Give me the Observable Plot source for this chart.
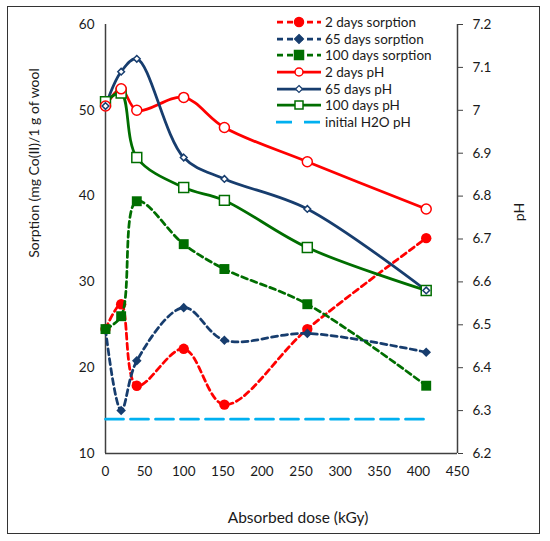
<!DOCTYPE html>
<html>
<head>
<meta charset="utf-8">
<script src="https://cdn.jsdelivr.net/npm/d3@7"></script>
<script src="https://cdn.jsdelivr.net/npm/@observablehq/plot@0.6"></script>
<style>
  body { margin: 0; background: #fff; font-family: Lato, "Open Sans", sans-serif; }
  #wrap { position: relative; width: 550px; height: 541px; }
  .lbl { position: absolute; white-space: nowrap; color: #1a1a1a; font-size: 15.5px; transform: translate(-50%, -50%); }
  #legend { position: absolute; left: 276px; top: 14px; font-size: 13.5px; color: #1a1a1a; }
  .row { height: 16.6px; display: flex; align-items: center; }
  .row svg { display: block; }
  .row span { margin-left: 3px; }
</style>
</head>
<body>
<div id="wrap">
  <div id="chart"></div>
  <div style="position:absolute;left:7px;top:6px;width:531px;height:526px;border:1.5px solid #333;pointer-events:none"></div>
  <div class="lbl" style="left:33px;top:163px;font-size:14px;transform:translate(-50%,-50%) rotate(-90deg)">Sorption (mg Co(II)/1 g of wool</div>
  <div class="lbl" style="left:518px;top:212px;font-size:14px;transform:translate(-50%,-50%) rotate(-90deg)">pH</div>
  <div class="lbl" style="left:298px;top:517px">Absorbed dose (kGy)</div>
  <div id="legend"></div>
</div>
<script>
// ---- data ----
const dose = [0, 20, 40, 100, 152, 258, 410];
const sorption2d = [24.5, 27.4, 17.9, 22.2, 15.7, 24.5, 35.1];
const sorption65d = [24.5, 15.0, 20.8, 27.0, 23.2, 24.0, 21.8];
const sorption100d = [24.5, 26.0, 39.4, 34.4, 31.5, 27.4, 17.9];
const pH2d = [7.01, 7.05, 7.00, 7.03, 6.96, 6.88, 6.77];
const pH65d = [7.01, 7.09, 7.12, 6.89, 6.84, 6.77, 6.58];
const pH100d = [7.02, 7.04, 6.89, 6.82, 6.79, 6.68, 6.58];
const initialPH = 6.28;
const xTicks = [0, 50, 100, 150, 200, 250, 300, 350, 400, 450];
const leftTicks = [10, 20, 30, 40, 50, 60];
const pHTicks = [6.2, 6.3, 6.4, 6.5, 6.6, 6.7, 6.8, 6.9, 7.0, 7.1, 7.2];
const seriesNames = ["2 days sorption", "65 days sorption", "100 days sorption", "2 days pH", "65 days pH", "100 days pH", "initial H2O pH"];

const RED = "#ff0000", NAVY = "#173d6e", GREEN = "#006e00", LBLUE = "#00b0f0";

// secondary (pH) axis mapped onto the primary scale
const toLeft = p => 10 + (p - 6.2) * 50;
const fromLeft = v => 6.2 + (v - 10) / 50;
const rows = ys => dose.map((x, i) => ({x, y: ys[i]}));
const rowsPH = ys => dose.map((x, i) => ({x, y: toLeft(ys[i])}));

const dash = "6,4";
const sw = 2.75;
const curve = "catmull-rom";

const marks = [
  Plot.ruleX([0], {stroke: "#404040", strokeWidth: 1.5}),
  Plot.ruleX([450], {stroke: "#404040", strokeWidth: 1.5}),
  Plot.ruleY([10], {stroke: "#404040", strokeWidth: 1.5}),
  Plot.axisX({ticks: xTicks, tickSize: 0, tickPadding: 13, label: null}),
  Plot.axisY({ticks: leftTicks, tickSize: 0, tickPadding: 11, label: null}),
  Plot.axisY({anchor: "right", ticks: pHTicks.map(toLeft), tickSize: 5, tickPadding: 10, stroke: "#404040",
    tickFormat: v => String(+fromLeft(v).toFixed(1)), label: null}),
  // sorption series
  Plot.line(rows(sorption2d), {x: "x", y: "y", stroke: RED, strokeWidth: sw, strokeDasharray: dash, curve}),
  Plot.dot(rows(sorption2d), {x: "x", y: "y", symbol: "circle", r: 5.2, fill: RED}),
  Plot.line(rows(sorption65d), {x: "x", y: "y", stroke: NAVY, strokeWidth: sw, strokeDasharray: dash, curve}),
  Plot.dot(rows(sorption65d), {x: "x", y: "y", symbol: "diamond2", r: 4.3, fill: NAVY}),
  Plot.line(rows(sorption100d), {x: "x", y: "y", stroke: GREEN, strokeWidth: sw, strokeDasharray: dash, curve}),
  Plot.dot(rows(sorption100d), {x: "x", y: "y", symbol: "square", r: 5.6, fill: GREEN}),
  // pH series
  Plot.line(rowsPH(pH2d), {x: "x", y: "y", stroke: RED, strokeWidth: sw, curve}),
  Plot.line(rowsPH(pH65d), {x: "x", y: "y", stroke: NAVY, strokeWidth: sw, curve}),
  Plot.line(rowsPH(pH100d), {x: "x", y: "y", stroke: GREEN, strokeWidth: sw, curve}),
  Plot.dot(rowsPH(pH100d), {x: "x", y: "y", symbol: "square", r: 5.6, fill: "white", stroke: GREEN, strokeWidth: 1.5}),
  Plot.dot(rowsPH(pH2d), {x: "x", y: "y", symbol: "circle", r: 5, fill: "white", stroke: RED, strokeWidth: 1.5}),
  Plot.dot(rowsPH(pH65d), {x: "x", y: "y", symbol: "diamond2", r: 3, fill: "white", stroke: NAVY, strokeWidth: 1.5}),
  // initial H2O pH
  Plot.line(dose.map(x => ({x, y: toLeft(initialPH)})), {x: "x", y: "y", stroke: LBLUE, strokeWidth: 2.75, strokeDasharray: "18,7"})
];

const chart = Plot.plot({
  width: 550, height: 541,
  marginLeft: 105, marginRight: 93, marginTop: 24, marginBottom: 88,
  x: {domain: [0, 450]},
  y: {domain: [10, 60]},
  style: {fontFamily: "Lato, 'Open Sans', sans-serif", fontSize: "13.5px", color: "#1a1a1a", background: "white"},
  marks
});
document.getElementById("chart").appendChild(chart);

// ---- legend ----
const legendSpec = [
  {color: RED, dash: dash, sym: "circle", fill: true},
  {color: NAVY, dash: dash, sym: "diamond", fill: true},
  {color: GREEN, dash: dash, sym: "square", fill: true},
  {color: RED, dash: null, sym: "circle", fill: false},
  {color: NAVY, dash: null, sym: "diamond", fill: false},
  {color: GREEN, dash: null, sym: "square", fill: false},
  {color: LBLUE, dash: "16,12", sym: null, fill: false}
];
const leg = document.getElementById("legend");
legendSpec.forEach((s, i) => {
  const row = document.createElement("div");
  row.className = "row";
  let marker = "";
  const f = s.fill ? s.color : "white";
  if (s.sym === "circle") marker = `<circle cx="23" cy="7" r="${s.fill ? 4.5 : 4}" fill="${f}" stroke="${s.color}" stroke-width="1.5"/>`;
  if (s.sym === "square") marker = `<rect x="${s.fill ? 18.5 : 19}" y="${s.fill ? 2.5 : 3}" width="${s.fill ? 9 : 8}" height="${s.fill ? 9 : 8}" fill="${f}" stroke="${s.color}" stroke-width="1.5"/>`;
  if (s.sym === "diamond") { const d = s.fill ? 4.5 : 3.5; marker = `<path d="M23,${7-d}L${23+d},7L23,${7+d}L${23-d},7Z" fill="${f}" stroke="${s.color}" stroke-width="1.2"/>`; }
  const line = `<line x1="${s.sym ? 1 : 0}" y1="7" x2="45" y2="7" stroke="${s.color}" stroke-width="2.75" ${s.dash ? `stroke-dasharray="${s.dash}"` : ""}/>`;
  row.innerHTML = `<svg width="46" height="14">${line}${marker}</svg><span>${seriesNames[i]}</span>`;
  leg.appendChild(row);
});
</script>
</body>
</html>
